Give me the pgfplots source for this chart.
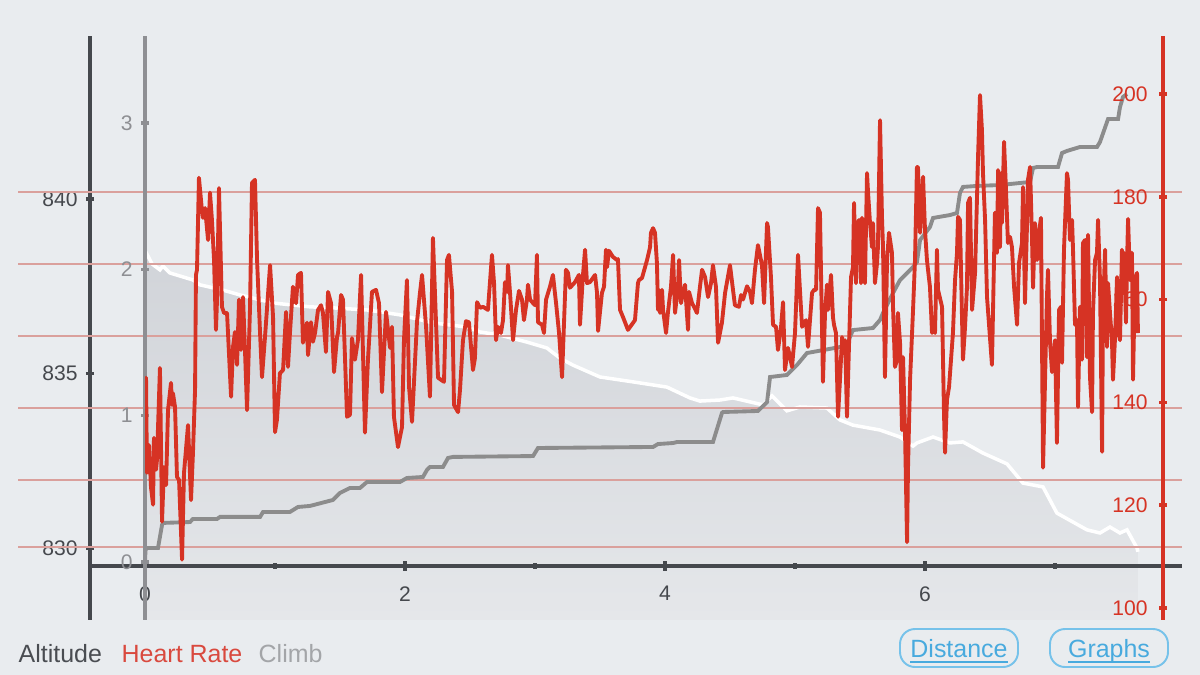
\documentclass[border=0pt]{standalone}
\usepackage{fontspec}
\setmainfont{Liberation Sans}
\usepackage{pgfplots}
\usepackage{pgfplotstable}
\pgfplotsset{compat=1.18}

\definecolor{bg}{RGB}{233,236,239}
\definecolor{altdark}{RGB}{69,72,77}
\definecolor{climbgray}{RGB}{140,140,140}
\definecolor{climbaxis}{RGB}{142,143,147}
\definecolor{hrred}{RGB}{214,51,36}
\definecolor{gridred}{RGB}{218,160,156}
\definecolor{areatop}{RGB}{209,212,217}
\definecolor{areabot}{RGB}{229,231,234}
\definecolor{btnblue}{RGB}{118,194,234}
\definecolor{btntext}{RGB}{72,170,222}
\definecolor{legalt}{RGB}{74,77,82}
\definecolor{leghr}{RGB}{217,73,62}
\definecolor{legclimb}{RGB}{163,165,168}

% altitude (m) over distance (km)
\pgfplotstableread{
d alt
0.000 838.31
0.015 838.42
0.054 838.14
0.115 837.97
0.138 838.08
0.192 837.88
0.369 837.68
0.423 837.54
0.600 837.39
0.731 837.25
0.985 837.02
1.269 836.91
1.446 836.88
1.708 836.82
1.962 836.68
2.215 836.45
2.477 836.33
2.577 836.19
2.731 836.10
2.938 835.90
3.092 835.73
3.192 835.44
3.292 835.24
3.500 834.90
3.754 834.76
4.015 834.61
4.192 834.30
4.269 834.21
4.423 834.24
4.523 834.30
4.754 834.10
4.823 834.36
4.938 833.93
5.038 834.04
5.246 834.01
5.346 833.67
5.446 833.52
5.654 833.38
5.808 833.18
5.908 832.92
5.938 833.01
6.062 833.18
6.192 833.01
6.292 833.04
6.446 832.72
6.631 832.41
6.754 831.86
6.908 831.75
7.015 831.00
7.246 830.52
7.346 830.43
7.423 830.60
7.500 830.43
7.554 830.52
7.631 830.00
7.638 829.89
}\alt

% cumulative climb
\pgfplotstableread{
d c
0.000 0.000
0.004 0.082
0.015 0.096
0.100 0.096
0.131 0.253
0.138 0.267
0.346 0.273
0.369 0.294
0.554 0.294
0.577 0.308
0.885 0.308
0.908 0.342
1.115 0.342
1.177 0.376
1.269 0.383
1.446 0.424
1.500 0.472
1.577 0.506
1.654 0.506
1.708 0.547
1.962 0.547
2.015 0.574
2.138 0.581
2.169 0.629
2.192 0.649
2.292 0.649
2.331 0.711
2.369 0.718
2.985 0.724
3.023 0.779
3.908 0.786
3.946 0.806
4.062 0.813
4.092 0.820
4.369 0.820
4.438 1.018
4.446 1.025
4.715 1.032
4.785 1.093
4.808 1.264
4.938 1.278
5.015 1.346
5.092 1.428
5.346 1.469
5.400 1.483
5.423 1.538
5.446 1.585
5.600 1.599
5.654 1.654
5.677 1.702
5.754 1.838
5.808 1.927
5.885 1.995
5.908 2.016
5.938 2.050
5.962 2.200
6.038 2.289
6.062 2.351
6.192 2.371
6.246 2.385
6.269 2.522
6.292 2.563
6.400 2.570
6.577 2.576
6.808 2.597
6.831 2.693
6.862 2.699
7.023 2.699
7.054 2.795
7.092 2.809
7.192 2.836
7.323 2.836
7.346 2.870
7.400 3.007
7.408 3.027
7.485 3.027
7.500 3.109
7.523 3.178
7.554 3.198
}\climb

% heart rate (bpm)
\pgfplotstableread{
d hr
0.000 140.5
0.008 144.8
0.015 126.3
0.031 131.7
0.046 123.5
0.062 120.1
0.069 133.1
0.085 126.9
0.092 128.8
0.115 146.7
0.131 116.8
0.146 127.4
0.162 123.9
0.177 138.5
0.200 143.8
0.208 139.5
0.215 141.8
0.231 139.1
0.246 125.5
0.262 124.9
0.285 109.4
0.300 126.3
0.331 135.6
0.354 121.0
0.369 130.2
0.385 142.4
0.392 164.8
0.400 165.8
0.415 183.7
0.438 177.4
0.446 175.9
0.462 177.8
0.485 171.6
0.500 180.8
0.515 175.5
0.531 167.7
0.546 154.1
0.554 160.0
0.569 181.7
0.592 158.6
0.608 157.4
0.631 157.4
0.662 141.1
0.677 150.8
0.692 153.7
0.708 147.3
0.723 160.0
0.738 150.2
0.754 160.5
0.769 150.2
0.785 138.5
0.808 158.6
0.823 182.7
0.846 183.3
0.862 167.7
0.885 153.5
0.900 144.9
0.923 152.7
0.962 166.7
0.985 156.6
1.000 134.2
1.015 136.6
1.038 145.7
1.062 146.3
1.085 157.6
1.100 146.9
1.115 153.5
1.138 162.5
1.162 159.3
1.177 164.8
1.200 165.2
1.215 151.6
1.246 155.5
1.254 149.2
1.277 155.6
1.292 151.8
1.308 153.5
1.331 158.0
1.354 158.9
1.369 157.4
1.392 149.8
1.408 161.5
1.431 159.3
1.454 145.9
1.477 152.7
1.485 153.5
1.508 160.9
1.523 160.0
1.554 137.2
1.577 137.6
1.592 152.5
1.615 148.3
1.638 152.1
1.662 164.8
1.692 134.1
1.715 148.3
1.746 161.5
1.777 161.9
1.800 159.3
1.823 142.0
1.854 157.6
1.885 150.6
1.900 154.7
1.915 137.2
1.946 131.3
1.977 135.2
1.992 152.1
2.015 163.8
2.031 143.0
2.054 136.2
2.092 155.6
2.115 161.3
2.131 164.8
2.162 154.7
2.192 141.1
2.215 172.0
2.238 156.0
2.254 144.8
2.300 144.0
2.323 167.7
2.338 168.7
2.362 161.5
2.377 139.5
2.408 138.1
2.423 142.4
2.446 152.1
2.469 155.8
2.492 155.6
2.523 146.3
2.538 148.6
2.554 159.5
2.577 158.4
2.600 158.6
2.638 158.0
2.669 168.7
2.685 163.2
2.700 152.1
2.715 154.7
2.738 153.5
2.754 156.0
2.769 163.4
2.785 161.5
2.792 166.7
2.808 161.3
2.831 152.1
2.854 158.0
2.877 161.7
2.900 160.0
2.915 156.0
2.938 160.0
2.946 162.9
2.962 160.0
2.985 159.3
3.000 158.9
3.015 168.7
3.023 155.6
3.054 155.1
3.069 153.5
3.085 160.0
3.115 162.5
3.138 164.8
3.162 159.3
3.185 153.5
3.208 144.9
3.238 165.8
3.254 165.2
3.269 162.3
3.308 163.4
3.338 164.8
3.346 155.1
3.369 164.8
3.385 169.7
3.400 163.2
3.423 163.4
3.462 164.8
3.477 161.3
3.485 153.9
3.515 161.3
3.531 162.5
3.546 169.7
3.554 166.3
3.569 169.5
3.600 168.3
3.631 167.7
3.638 167.9
3.654 158.0
3.677 156.6
3.715 154.1
3.769 156.0
3.792 163.2
3.800 163.8
3.823 164.2
3.862 167.7
3.885 170.2
3.892 173.0
3.908 173.9
3.923 173.0
3.938 167.1
3.946 158.0
3.954 161.9
3.962 157.4
3.977 161.9
3.985 158.0
4.008 153.5
4.023 157.6
4.046 162.5
4.062 168.7
4.077 157.4
4.100 162.5
4.108 167.7
4.123 159.3
4.138 161.3
4.154 162.9
4.177 154.1
4.185 161.5
4.208 159.3
4.223 158.6
4.246 157.4
4.269 162.5
4.285 165.8
4.308 164.4
4.331 160.5
4.354 163.2
4.369 166.7
4.392 162.5
4.408 151.6
4.438 155.5
4.462 161.3
4.500 166.7
4.523 161.9
4.538 158.9
4.569 158.6
4.585 160.9
4.600 160.0
4.631 162.6
4.654 161.5
4.669 159.3
4.692 165.8
4.715 170.6
4.746 166.7
4.762 159.3
4.785 174.9
4.792 174.1
4.815 164.4
4.831 155.1
4.854 154.7
4.869 150.2
4.892 154.5
4.908 159.5
4.923 146.3
4.946 150.6
4.962 148.8
4.977 146.9
5.000 153.5
5.023 168.7
5.054 154.7
5.085 156.0
5.100 150.8
5.131 161.3
5.146 161.9
5.162 161.9
5.177 177.8
5.192 176.9
5.215 144.0
5.231 157.4
5.246 162.9
5.254 158.0
5.277 164.8
5.292 156.6
5.300 155.1
5.315 153.5
5.331 137.2
5.346 144.4
5.362 152.7
5.369 150.8
5.385 152.1
5.400 137.2
5.415 150.8
5.431 164.4
5.446 166.3
5.454 178.8
5.469 163.2
5.477 174.1
5.492 175.5
5.508 163.2
5.515 175.9
5.523 171.6
5.538 163.2
5.554 184.6
5.562 180.8
5.577 174.9
5.592 170.2
5.600 174.9
5.615 163.2
5.631 167.1
5.638 170.2
5.654 194.9
5.669 176.1
5.677 170.2
5.692 144.9
5.708 167.7
5.723 173.0
5.746 169.1
5.754 158.6
5.769 146.9
5.785 148.3
5.792 157.4
5.808 151.6
5.823 134.6
5.831 148.8
5.846 134.6
5.862 112.8
5.869 126.9
5.885 144.4
5.908 158.0
5.923 167.7
5.938 185.8
5.946 185.8
5.962 173.0
5.977 180.0
5.985 183.9
6.000 173.5
6.015 167.7
6.023 165.8
6.038 162.5
6.054 153.5
6.062 156.6
6.077 153.5
6.092 169.7
6.100 161.9
6.131 158.6
6.146 137.9
6.154 130.2
6.169 140.5
6.185 143.0
6.200 148.3
6.215 153.5
6.231 163.8
6.246 169.1
6.254 176.1
6.269 175.5
6.285 156.0
6.292 148.3
6.308 154.7
6.323 162.5
6.331 178.8
6.346 179.8
6.362 158.0
6.385 165.2
6.408 187.8
6.423 199.8
6.438 193.0
6.446 184.6
6.462 175.5
6.477 160.5
6.515 147.3
6.538 176.9
6.554 169.1
6.562 185.2
6.577 170.2
6.585 184.6
6.592 174.9
6.608 190.7
6.623 181.3
6.638 171.0
6.654 172.2
6.669 170.2
6.685 162.5
6.708 155.1
6.723 167.1
6.746 171.0
6.754 181.9
6.769 159.3
6.785 174.9
6.792 183.3
6.808 185.8
6.823 172.2
6.831 162.3
6.846 174.9
6.862 167.7
6.869 171.6
6.892 175.9
6.908 127.3
6.938 160.5
6.946 165.8
6.962 151.6
6.977 145.9
7.000 152.1
7.015 132.1
7.031 158.0
7.046 158.6
7.054 147.7
7.069 169.7
7.092 184.6
7.100 183.3
7.115 171.6
7.131 175.5
7.138 170.2
7.154 155.1
7.169 156.0
7.177 139.1
7.192 158.6
7.208 148.3
7.215 171.0
7.231 171.6
7.246 148.8
7.254 172.6
7.269 144.9
7.285 138.1
7.292 157.4
7.308 167.7
7.323 169.1
7.331 175.5
7.346 163.8
7.362 130.4
7.369 157.4
7.385 169.7
7.400 150.8
7.408 163.2
7.423 157.4
7.438 152.1
7.446 144.4
7.462 152.7
7.477 164.4
7.485 154.4
7.500 152.1
7.515 169.7
7.523 161.3
7.531 169.1
7.546 155.5
7.554 167.1
7.562 175.7
7.577 163.8
7.592 169.1
7.600 144.4
7.615 163.8
7.631 165.2
7.638 153.5
}\hr

\pgfplotsset{
  layer/.style={scale only axis, anchor=south west, height=5.84cm,
    axis x line=none, axis y line=left, tick align=center,
    major tick length=0.08cm,
    /pgf/number format/assume math mode=true,
    /pgf/number format/1000 sep={},
    yticklabel style={font=\fontsize{6}{7}\selectfont},
    axis on top},
}

\begin{document}
\begin{tikzpicture}
\useasboundingbox (0,0) rectangle (12,6.75);
\fill[bg] (0,0) rectangle (12,6.75);

% altitude
\begin{axis}[layer, at={(0.9cm,0.55cm)}, width=10.92cm,
  xmin=-0.42308, xmax=7.97692, ymin=827.937, ymax=844.670,
  ytick={830,835,840},
  every outer y axis line/.append style={-, draw=altdark, line width=1pt},
  every tick/.append style={draw=altdark, line width=1pt},
  yticklabel style={text=altdark, xshift=0.04cm}]
\addplot[draw=none, top color=areatop, bottom color=areabot]
  table {\alt} |- (axis cs:0,827.937) -- cycle;
\addplot[white, line width=1pt] table {\alt};
\end{axis}

% screen frame: grid lines, legend, buttons
\begin{axis}[scale only axis, anchor=south west, at={(0,0)},
  width=12cm, height=6.75cm, xmin=0, xmax=1200, ymin=0, ymax=675,
  y dir=reverse, hide axis, clip=false]
\foreach \yy in {192,264,336,408,480,547} {
  \edef\tmp{\noexpand\addplot[gridred, line width=0.3pt] coordinates {(18,\yy) (1182,\yy)};}
  \tmp
}
\node[anchor=base west, inner sep=0, text=legalt, font=\fontsize{7.1}{8}\selectfont]
  at (axis cs:18,662) {Altitude};
\node[anchor=base west, inner sep=0, text=leghr, font=\fontsize{7.1}{8}\selectfont]
  at (axis cs:121,662) {Heart Rate};
\node[anchor=base west, inner sep=0, text=legclimb, font=\fontsize{7.1}{8}\selectfont]
  at (axis cs:258,662) {Climb};
\node[draw=btnblue, line width=0.55pt, rounded corners=0.15cm,
  minimum width=1.18cm, minimum height=0.38cm, inner sep=0] at (axis cs:959,648) {};
\node[draw=btnblue, line width=0.55pt, rounded corners=0.15cm,
  minimum width=1.18cm, minimum height=0.38cm, inner sep=0] at (axis cs:1109,648) {};
\node[anchor=base, inner sep=0, text=btntext, font=\fontsize{7.1}{8}\selectfont]
  at (axis cs:959,657) {\underline{\smash{Distance}}};
\node[anchor=base, inner sep=0, text=btntext, font=\fontsize{7.1}{8}\selectfont]
  at (axis cs:1109,657) {\underline{\smash{Graphs}}};
\end{axis}

% distance axis
\begin{axis}[scale only axis, anchor=south west, at={(0.9cm,1.09cm)},
  width=10.92cm, height=1cm, xmin=-0.42308, xmax=7.97692, ymin=0, ymax=1,
  axis x line=bottom, axis y line=none,
  every outer x axis line/.append style={-, draw=altdark, line width=1pt},
  xtick={0,2,4,6}, minor xtick={1,3,5,7}, tick align=center,
  major tick length=0.1cm, minor tick length=0.06cm,
  every tick/.append style={draw=altdark, line width=1pt},
  /pgf/number format/assume math mode=true,
  xticklabel style={font=\fontsize{6}{7}\selectfont, text=altdark, yshift=-0.03cm}]
\end{axis}

% climb
\begin{axis}[layer, at={(1.45cm,0.55cm)}, width=10.37cm,
  xmin=0, xmax=7.97692, ymin=-0.3964, ymax=3.5946,
  ytick={0,1,2,3},
  every outer y axis line/.append style={-, draw=climbaxis, line width=1pt},
  every tick/.append style={draw=climbaxis, line width=1pt},
  yticklabel style={text=climbaxis, xshift=0.04cm}]
\addplot[climbgray, line width=1.1pt] table {\climb};
\end{axis}

% heart rate
\begin{axis}[layer, at={(1.45cm,0.55cm)}, width=10.18cm,
  xmin=0, xmax=7.8308, ymin=97.67, ymax=211.28,
  axis y line=right, ytick={100,120,...,200},
  every outer y axis line/.append style={-, draw=hrred, line width=1pt},
  every tick/.append style={draw=hrred, line width=1pt},
  yticklabel style={text=hrred, anchor=east, xshift=-0.07cm}]
\addplot[hrred, line width=1.1pt, line join=round] table {\hr};
\end{axis}
\end{tikzpicture}
\end{document}
